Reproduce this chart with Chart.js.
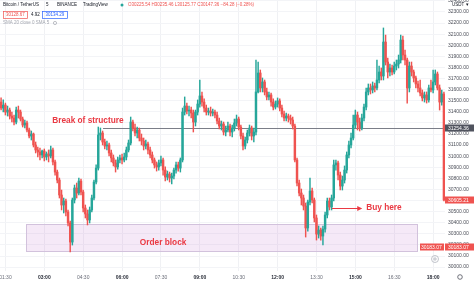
<!DOCTYPE html>
<html>
<head>
<meta charset="utf-8">
<script src="https://cdn.jsdelivr.net/npm/chart.js@4.4.0/dist/chart.umd.min.js"></script>
<style>
  html, body { margin: 0; padding: 0; background: #fff; }
  #btcChart { display: block; }
</style>
</head>
<body>
<canvas id="btcChart" width="474" height="284"></canvas>
<script>
// 5 minute candles, BTC/USDT, first bar at 01:20 (minutes after midnight)
const candleStart = 80;
const candleStep = 5;

const opens = [
  31488,31434,31461,31398,31416,31362,31344,31308,31416,31398,
  31335,31281,31299,31236,31182,31200,31101,31056,31038,31011,
  31047,30993,31020,31002,31056,30948,30857,30785,30650,30560,
  30596,30497,30398,30226,30605,30713,30668,30776,30677,30533,
  30479,30425,30515,30623,30767,30893,31191,31209,31128,31092,
  31101,31029,30984,30939,30903,30966,30984,30966,30993,31056,
  31119,31308,31254,31209,31236,31164,31137,31092,31110,31056,
  31011,30966,30921,30903,30939,30966,30875,30812,30839,30803,
  30821,30875,30921,30893,30966,31398,31452,31407,31416,31389,
  31308,31398,31470,31543,31488,31434,31398,31407,31389,31398,
  31371,31317,31272,31290,31218,31236,31272,31218,31254,31299,
  31335,31263,31182,31092,31146,31209,31254,31182,31218,31579,
  31750,31615,31669,31579,31534,31552,31488,31443,31470,31498,
  31434,31380,31344,31362,31344,31326,31272,30966,30758,30668,
  30623,30551,30353,30587,30686,30605,30443,30298,30334,30280,
  30343,30470,30596,30542,30623,30921,30939,30830,30731,30785,
  30875,31011,31101,31164,31281,31371,31308,31254,31344,31443,
  31579,31615,31597,31633,31615,31687,31759,31723,32029,31849,
  31759,31795,31759,31813,31831,31867,32047,31912,31867,31615,
  31813,31759,31705,31651,31615,31570,31525,31552,31507,31615,
  31597,31669,31741,31615,31488,31561
];
const highs = [
  31525,31507,31479,31452,31434,31398,31371,31443,31452,31416,
  31353,31326,31317,31254,31227,31209,31128,31083,31074,31056,
  31065,31038,31056,31092,31074,30966,30875,30803,30695,30623,
  30614,30515,30416,30623,30740,30758,30803,30794,30695,30560,
  30515,30542,30650,30785,30921,31263,31254,31227,31155,31137,
  31119,31056,31011,30966,30993,31011,31020,31029,31083,31146,
  31353,31326,31290,31263,31254,31200,31164,31146,31128,31083,
  31038,30984,30948,30966,31002,30984,30903,30866,30857,30848,
  30893,30948,30948,30984,31434,31534,31479,31452,31443,31416,
  31416,31507,31687,31579,31516,31461,31434,31443,31425,31416,
  31398,31344,31317,31308,31272,31308,31290,31281,31335,31371,
  31353,31281,31209,31173,31236,31281,31272,31254,31867,31849,
  31777,31705,31687,31615,31579,31570,31516,31498,31525,31516,
  31461,31407,31389,31380,31371,31353,31290,30984,30785,30704,
  30650,30578,30605,30803,30713,30623,30470,30371,30353,30371,
  30497,30623,30623,30650,30966,30966,30957,30857,30821,30912,
  31038,31137,31209,31371,31416,31398,31344,31380,31470,31615,
  31651,31651,31669,31660,31867,31813,31795,32156,32092,31885,
  31831,31822,31849,31867,31912,32092,32083,31957,31885,31849,
  31849,31777,31723,31678,31687,31597,31579,31579,31642,31687,
  31777,31777,31759,31642,31597,31579
];
const lows = [
  31416,31398,31371,31362,31335,31308,31281,31290,31344,31317,
  31263,31254,31218,31164,31146,31083,31029,30993,30966,30984,
  30957,30966,30948,30984,30921,30830,30758,30623,30515,30488,
  30461,30371,30136,30199,30578,30623,30650,30650,30497,30443,
  30380,30398,30497,30605,30749,30875,31146,31101,31065,31056,
  31002,30948,30912,30857,30884,30939,30930,30948,30966,31038,
  31101,31227,31182,31164,31137,31101,31056,31065,31020,30984,
  30939,30893,30866,30875,30912,30830,30776,30785,30767,30749,
  30794,30848,30866,30857,30948,31371,31380,31362,31344,31218,
  31272,31371,31443,31452,31398,31371,31371,31362,31362,31344,
  31290,31245,31236,31191,31182,31218,31182,31173,31227,31272,
  31236,31155,31056,31065,31119,31182,31146,31128,31191,31570,
  31579,31579,31552,31507,31507,31452,31416,31425,31443,31407,
  31353,31317,31317,31308,31290,31245,30948,30731,30641,30560,
  30515,30271,30325,30560,30578,30407,30244,30262,30244,30199,
  30316,30443,30515,30515,30596,30875,30785,30695,30695,30758,
  30848,30984,31074,31146,31254,31236,31227,31236,31317,31416,
  31552,31561,31570,31579,31597,31660,31687,31687,31822,31705,
  31723,31732,31741,31777,31795,31840,31867,31822,31479,31579,
  31723,31669,31615,31579,31543,31498,31488,31479,31488,31579,
  31570,31642,31597,31416,31461,30596
];
const closes = [
  31434,31461,31398,31416,31362,31344,31308,31416,31398,31335,
  31281,31299,31236,31182,31200,31101,31056,31038,31011,31047,
  30993,31020,31002,31056,30948,30857,30785,30650,30560,30596,
  30497,30398,30226,30605,30713,30668,30776,30677,30533,30479,
  30425,30515,30623,30767,30893,31191,31209,31128,31092,31101,
  31029,30984,30939,30903,30966,30984,30966,30993,31056,31119,
  31308,31254,31209,31236,31164,31137,31092,31110,31056,31011,
  30966,30921,30903,30939,30966,30875,30812,30839,30803,30821,
  30875,30921,30893,30966,31398,31452,31407,31416,31389,31308,
  31398,31470,31543,31488,31434,31398,31407,31389,31398,31371,
  31317,31272,31290,31218,31236,31272,31218,31254,31299,31335,
  31263,31182,31092,31146,31209,31254,31182,31218,31579,31750,
  31615,31669,31579,31534,31552,31488,31443,31470,31498,31434,
  31380,31344,31362,31344,31326,31272,30966,30758,30668,30623,
  30551,30353,30587,30686,30605,30443,30298,30334,30280,30343,
  30470,30596,30542,30623,30921,30939,30830,30731,30785,30875,
  31011,31101,31164,31281,31371,31308,31254,31344,31443,31579,
  31615,31597,31633,31615,31687,31759,31723,32029,31849,31759,
  31795,31759,31813,31831,31867,32047,31912,31867,31615,31813,
  31759,31705,31651,31615,31570,31525,31552,31507,31615,31597,
  31669,31741,31615,31488,31561,30605
];

const timeTicks = [90, 180, 270, 360, 450, 540, 630, 720, 810, 900, 990, 1080];
const timeLabels = ['01:30', '03:00', '04:30', '06:00', '07:30', '09:00',
                    '10:30', '12:00', '13:30', '15:00', '16:30', '18:00'];

const bosLevel = 31254.36;
const orderBlockTop = 30390;
const orderBlockBottom = 30145;
const lastPriceTag = 30605.21;
const alertPrice = 30183.07;

const UP = '#26a69a';
const DOWN = '#ef5350';
const FONT = '"Liberation Sans", Arial, sans-serif';

const times = opens.map((_, i) => candleStart + i * candleStep);
const candleColors = opens.map((o, i) => closes[i] >= o ? UP : DOWN);

const drawings = {
  id: 'drawings',
  beforeDatasetsDraw(chart) {
    const { ctx, chartArea: a, scales: { x, y } } = chart;
    ctx.save();
    // order block zone
    const bx0 = Math.round(x.getPixelForValue(138)) + 0.5;
    const bx1 = Math.round(x.getPixelForValue(1043)) + 0.5;
    const by0 = Math.round(y.getPixelForValue(orderBlockTop)) + 0.5;
    const by1 = Math.round(y.getPixelForValue(orderBlockBottom)) + 0.5;
    ctx.fillStyle = 'rgba(206, 147, 216, 0.2)';
    ctx.fillRect(bx0, by0, bx1 - bx0, by1 - by0);
    ctx.strokeStyle = '#d2c2dc';
    ctx.lineWidth = 1;
    ctx.strokeRect(bx0, by0, bx1 - bx0, by1 - by0);

    // break of structure level
    const ly = Math.round(y.getPixelForValue(bosLevel)) + 0.5;
    ctx.strokeStyle = '#7b7e88';
    ctx.beginPath();
    ctx.moveTo(x.getPixelForValue(316), ly);
    ctx.lineTo(a.right, ly);
    ctx.stroke();
    ctx.restore();
  },
  afterDatasetsDraw(chart) {
    const { ctx, scales: { x, y } } = chart;
    ctx.save();
    ctx.fillStyle = '#ea3943';
    ctx.strokeStyle = '#ea3943';
    ctx.textBaseline = 'middle';
    ctx.font = 'bold 8.3px ' + FONT;
    ctx.textAlign = 'center';
    ctx.fillText('Break of structure', x.getPixelForValue(281), y.getPixelForValue(31317));
    ctx.fillText('Order block', x.getPixelForValue(455), y.getPixelForValue(30222));
    ctx.textAlign = 'left';
    ctx.fillText('Buy here', x.getPixelForValue(925), y.getPixelForValue(30533));

    // arrow pointing to the label
    const ay = Math.round(y.getPixelForValue(30533)) + 0.5;
    const ax0 = x.getPixelForValue(846), ax1 = x.getPixelForValue(916);
    ctx.lineWidth = 1;
    ctx.beginPath();
    ctx.moveTo(ax0, ay);
    ctx.lineTo(ax1 - 3, ay);
    ctx.stroke();
    ctx.beginPath();
    ctx.moveTo(ax1, ay);
    ctx.lineTo(ax1 - 5, ay - 2.6);
    ctx.lineTo(ax1 - 5, ay + 2.6);
    ctx.closePath();
    ctx.fill();
    ctx.restore();
  },
  afterDraw(chart) {
    const { ctx, chartArea: a, scales: { y } } = chart;
    ctx.save();
    ctx.textBaseline = 'middle';

    // price tags on the right scale
    const tag = (price, text, bg, left) => {
      const ty = Math.round(y.getPixelForValue(price));
      ctx.fillStyle = bg;
      ctx.fillRect(left, ty - 3.5, 474 - left, 7);
      ctx.fillStyle = '#fff';
      ctx.font = '5px ' + FONT;
      ctx.textAlign = 'left';
      ctx.fillText(text, a.right + 3, ty + 0.3);
    };
    tag(bosLevel, bosLevel.toFixed(2), '#50535e', a.right);
    tag(lastPriceTag, lastPriceTag.toFixed(2), DOWN, a.right);
    tag(alertPrice, alertPrice.toFixed(2), DOWN, a.right);
    // left part of the alert tag
    const aty = Math.round(y.getPixelForValue(alertPrice));
    ctx.fillStyle = DOWN;
    ctx.fillRect(a.right - 25, aty - 3.5, 24, 7);
    ctx.fillStyle = '#fff';
    ctx.fillText(alertPrice.toFixed(2), a.right - 24, aty + 0.3);

    // currency of the scale
    ctx.fillStyle = '#131722';
    ctx.font = '4.5px ' + FONT;
    ctx.fillText('USDT \u25BE', 452, 5);

    // header lines
    ctx.font = '4.5px ' + FONT;
    ctx.fillStyle = '#131722';
    ctx.fillText('Bitcoin / TetherUS', 3, 5);
    ctx.fillText('5', 46, 5);
    ctx.fillText('BINANCE', 57, 5);
    ctx.fillText('TradingView', 83, 5);
    ctx.fillStyle = UP;
    ctx.beginPath();
    ctx.arc(122, 5, 1.5, 0, Math.PI * 2);
    ctx.fill();
    ctx.fillStyle = DOWN;
    ctx.fillText('O30225.54 H30235.46 L30125.77 C30147.36 \u221284.28 (\u22120.28%)', 128, 5);

    ctx.lineWidth = 0.7;
    ctx.strokeStyle = DOWN;
    ctx.strokeRect(3.5, 11.5, 24, 7);
    ctx.fillStyle = DOWN;
    ctx.fillText('30128.67', 6, 15);
    ctx.fillStyle = '#131722';
    ctx.fillText('4.92', 31, 15);
    ctx.strokeStyle = '#2962ff';
    ctx.strokeRect(42.5, 11.5, 25, 7);
    ctx.fillStyle = '#2962ff';
    ctx.fillText('30134.29', 45.5, 15);

    ctx.fillStyle = '#a3a6af';
    ctx.fillText('SMA 20 close 0 SMA 5', 3, 23);
    ctx.strokeStyle = '#a3a6af';
    ctx.beginPath();
    ctx.arc(55, 23, 1.6, 0, Math.PI * 2);
    ctx.stroke();

    // small controls bottom right
    ctx.strokeStyle = '#b2b5be';
    ctx.lineWidth = 0.8;
    ctx.beginPath();
    ctx.arc(435, 259, 3.5, 0, Math.PI * 2);
    ctx.stroke();
    ctx.beginPath();
    ctx.moveTo(433, 259); ctx.lineTo(437, 259);
    ctx.moveTo(435, 257); ctx.lineTo(435, 261);
    ctx.stroke();
    ctx.strokeStyle = '#50535e';
    ctx.beginPath();
    ctx.arc(460, 277, 2.3, 0, Math.PI * 2);
    ctx.stroke();
    ctx.restore();
  }
};

const ctx = document.getElementById('btcChart').getContext('2d');

const btcChart = new Chart(ctx, {
  type: 'bar',
  data: {
    datasets: [{
      label: 'wick',
      data: times.map((t, i) => ({ x: t, y: [lows[i], highs[i]] })),
      backgroundColor: candleColors,
      barThickness: 0.8,
      grouped: false,
      order: 2
    }, {
      label: 'body',
      data: times.map((t, i) => ({ x: t, y: [opens[i], closes[i]] })),
      backgroundColor: candleColors,
      barThickness: 1.8,
      minBarLength: 1,
      grouped: false,
      order: 1
    }]
  },
  options: {
    responsive: false,
    animation: false,
    layout: { padding: 0 },
    plugins: { legend: { display: false }, tooltip: { enabled: false } },
    scales: {
      x: {
        type: 'linear',
        min: candleStart - candleStep / 2,
        max: candleStart + (opens.length - 0.5) * candleStep,
        offset: false,
        grid: { offset: false, color: '#f0f1f4', drawTicks: false },
        border: { display: false },
        afterBuildTicks: s => { s.ticks = timeTicks.map(v => ({ value: v })); },
        afterFit: s => { s.height = 13; s.paddingLeft = 0; s.paddingRight = 0; },
        ticks: {
          autoSkip: false,
          maxRotation: 0,
          padding: 4,
          callback: v => timeLabels[timeTicks.indexOf(v)],
          font: c => ({
            family: FONT,
            size: 5,
            weight: timeLabels[c.index] && timeLabels[c.index].endsWith(':00') ? 'bold' : 'normal'
          }),
          color: c => timeLabels[c.index] && timeLabels[c.index].endsWith(':00') ? '#2a2e39' : '#6a6d78'
        }
      },
      y: {
        position: 'right',
        min: 29965,
        max: 32408,
        beginAtZero: false,
        grid: { color: '#f3f4f7', drawTicks: false },
        border: { display: false },
        afterFit: s => { s.width = 29; s.paddingTop = 0; s.paddingBottom = 0; },
        ticks: {
          stepSize: 100,
          includeBounds: false,
          padding: 3,
          callback: v => v.toFixed(2),
          font: { family: FONT, size: 5 },
          color: '#4c4f59'
        }
      }
    }
  },
  plugins: [drawings]
});
</script>
</body>
</html>
